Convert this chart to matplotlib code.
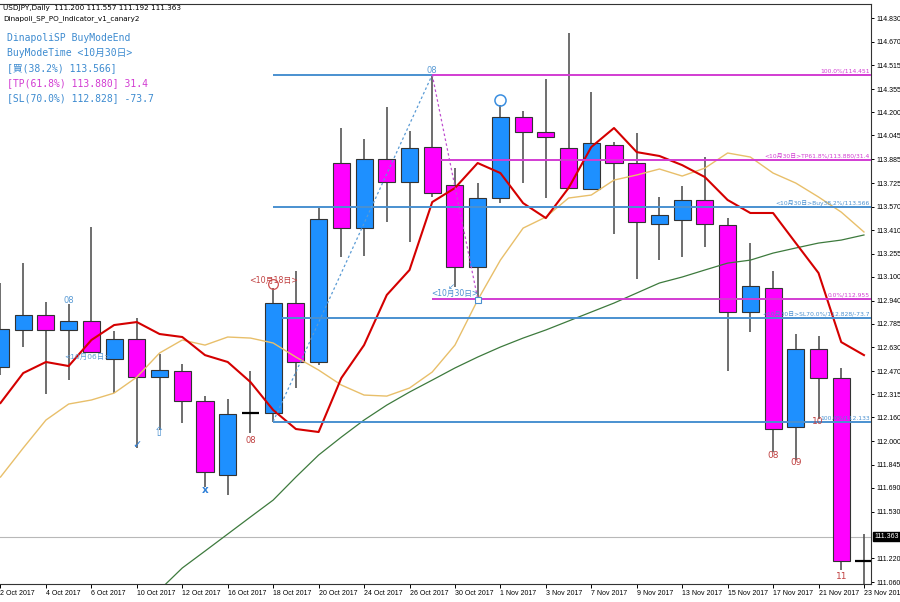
import numpy as np
import matplotlib.pyplot as plt
import matplotlib.transforms as mtransforms
from matplotlib import font_manager

# USDJPY daily bars, 2 Oct - 23 Nov 2017
dates = ["2 Oct 2017", "3 Oct 2017", "4 Oct 2017", "5 Oct 2017", "6 Oct 2017",
         "9 Oct 2017", "10 Oct 2017", "11 Oct 2017", "12 Oct 2017", "13 Oct 2017",
         "16 Oct 2017", "17 Oct 2017", "18 Oct 2017", "19 Oct 2017", "20 Oct 2017",
         "23 Oct 2017", "24 Oct 2017", "25 Oct 2017", "26 Oct 2017", "27 Oct 2017",
         "30 Oct 2017", "31 Oct 2017", "1 Nov 2017", "2 Nov 2017", "3 Nov 2017",
         "6 Nov 2017", "7 Nov 2017", "8 Nov 2017", "9 Nov 2017", "10 Nov 2017",
         "13 Nov 2017", "14 Nov 2017", "15 Nov 2017", "16 Nov 2017", "17 Nov 2017",
         "20 Nov 2017", "21 Nov 2017", "22 Nov 2017", "23 Nov 2017"]

opens = [112.497, 112.745, 112.845, 112.745, 112.805, 112.551, 112.684, 112.430, 112.471, 112.270,
         111.775, 112.192, 112.190, 112.925, 112.531, 113.861, 113.426, 113.888, 113.734, 113.968,
         113.714, 113.166, 113.627, 114.168, 114.068, 113.961, 113.687, 113.981, 113.861, 113.453,
         113.480, 113.614, 113.446, 112.865, 113.025, 112.096, 112.618, 112.424, 111.200]
highs = [113.059, 113.192, 112.932, 112.918, 113.433, 112.738, 112.825, 112.584, 112.517, 112.303,
         112.283, 112.471, 113.025, 113.139, 113.560, 114.095, 114.021, 114.235, 114.075, 114.451,
         113.827, 113.727, 114.248, 114.208, 114.422, 114.730, 114.335, 114.001, 114.061, 113.634,
         113.707, 113.901, 113.493, 113.326, 113.139, 112.718, 112.704, 112.491, 111.380]
lows = [112.444, 112.631, 112.317, 112.410, 112.590, 112.323, 111.956, 112.076, 112.123, 111.695,
        111.642, 112.056, 112.133, 112.357, 112.511, 113.233, 113.239, 113.466, 113.333, 113.634,
        113.032, 112.955, 113.593, 113.727, 113.627, 113.690, 113.680, 113.386, 113.085, 113.212,
        113.233, 113.299, 112.471, 112.731, 111.929, 111.876, 112.150, 111.140, 111.040]
closes = [112.751, 112.845, 112.745, 112.805, 112.598, 112.684, 112.430, 112.477, 112.270, 111.795,
          112.183, 112.192, 112.925, 112.531, 113.487, 113.426, 113.888, 113.734, 113.961, 113.660,
          113.166, 113.627, 114.168, 114.068, 114.035, 113.694, 113.994, 113.861, 113.466, 113.513,
          113.614, 113.453, 112.865, 113.039, 112.083, 112.618, 112.424, 111.200, 111.200]

# moving averages (red = fast DMA, tan = mid, green = slow)
ma_red = [112.257, 112.457, 112.531, 112.504, 112.678, 112.778, 112.798, 112.718, 112.698, 112.577,
          112.531, 112.397, 112.210, 112.083, 112.063, 112.424, 112.644, 112.979, 113.146, 113.600,
          113.694, 113.861, 113.794, 113.593, 113.493, 113.694, 113.968, 114.095, 113.934, 113.908,
          113.847, 113.767, 113.614, 113.527, 113.527, 113.326, 113.126, 112.664, 112.577]
ma_tan = [111.762, 111.956, 112.143, 112.250, 112.277, 112.323, 112.430, 112.591, 112.678, 112.644,
          112.698, 112.691, 112.658, 112.564, 112.477, 112.377, 112.310, 112.303, 112.357, 112.464,
          112.644, 112.945, 113.212, 113.426, 113.500, 113.627, 113.647, 113.747, 113.781, 113.821,
          113.774, 113.827, 113.928, 113.901, 113.794, 113.727, 113.634, 113.533, 113.400]
ma_green = [np.nan] * 7 + [
          111.007, 111.154, 111.267, 111.381, 111.495, 111.608, 111.762, 111.909, 112.029, 112.143,
          112.243, 112.330, 112.410, 112.491, 112.564, 112.631, 112.691, 112.745, 112.805, 112.865,
          112.925, 112.992, 113.059, 113.099, 113.146, 113.192, 113.212, 113.259, 113.293, 113.326,
          113.346, 113.380]

# fibo lines: price, first bar, colour, label
lvl_price = [114.451, 114.451, 113.880, 113.566, 112.955, 112.828, 112.133]
lvl_start = [12, 19, 19.35, 12, 19, 12.4, 12]
lvl_color = ["#4a90d0", "#d23cd2", "#d23cd2", "#4a90d0", "#d23cd2", "#4a90d0", "#4a90d0"]
lvl_label = ["", "100.0%/114.451", "<10月30日>TP61.8%/113.880/31.4", "<10月30日>Buy38.2%/113.566",
             "0.0%/112.955", "<10月30日>SL70.0%/112.828/-73.7", "100.0%/112.133"]

yticks = [114.830, 114.670, 114.515, 114.355, 114.200, 114.045, 113.885, 113.725, 113.570,
          113.410, 113.255, 113.100, 112.940, 112.785, 112.630, 112.470, 112.315, 112.160,
          112.000, 111.845, 111.690, 111.530, 111.220, 111.060]
bid = 111.363

BLUE = "#1e90ff"
MAG = "#ff00ff"
JP = ["DejaVu Sans", "Noto Sans CJK JP"]

# narrow font for the price / time scales if we have it
names = {f.name for f in font_manager.fontManager.ttflist}
if "Liberation Sans Narrow" in names:
    SCALE_FONT, SCALE_SIZE = "Liberation Sans Narrow", 6.0
else:
    SCALE_FONT, SCALE_SIZE = "Liberation Sans", 5.0

fig = plt.figure(figsize=(9, 6.02), dpi=100)
ax = fig.add_axes([0, 18 / 602, 871 / 900, 580 / 602])
x = np.arange(len(dates))

# candles
ax.vlines(x, lows, highs, color="#555555", lw=1.2, zorder=2)
for i in range(len(x)):
    o, c = opens[i], closes[i]
    if c == o:
        ax.hlines(o, i - 0.38, i + 0.38, color="black", lw=1.6, zorder=3)
        continue
    col = BLUE if c > o else MAG
    ax.bar(i, abs(c - o), bottom=min(o, c), width=0.75, color=col,
           edgecolor="#333333", lw=0.8, zorder=3)

xmax = 38.31
ax.axhline(bid, color="#b8b8b8", lw=0.8, zorder=1)

# moving averages
ax.plot(x, ma_green, color="#3d7a3d", lw=0.9, zorder=4)
ax.plot(x, ma_tan, color="#e8bf6a", lw=1.0, zorder=4)
ax.plot(x, ma_red, color="#d40000", lw=1.5, zorder=5)

# fibo lines + labels
for p, s, col, lab in zip(lvl_price, lvl_start, lvl_color, lvl_label):
    end = 19 if lab == "" else xmax
    ax.hlines(p, s, end, color=col, lw=1.4, zorder=6)
    if lab:
        ax.text(xmax - 0.05, p + 0.008, lab, color=col, fontsize=4.3, ha="right",
                va="bottom", family=JP, zorder=7)

# swing lines
ax.plot([12, 19], [112.133, 114.451], color="#5a9bd5", lw=0.9, ls=(0, (2, 2)), zorder=6)
ax.plot([19, 21], [114.451, 112.955], color="#c050d0", lw=0.9, ls=(0, (2, 2)), zorder=6)

# markers / labels
ax.text(3, 112.945, "08", color="#5a9bd5", fontsize=6, ha="center", va="center")
ax.text(3.85, 112.571, "<10月06日>", color="#5a9bd5", fontsize=5.4, ha="center", va="center",
        family=JP, zorder=7)
ax.text(6, 111.976, "✓", color="#2f80d8", fontsize=8, ha="center", va="center", fontweight="bold")
ax.text(7, 112.063, "⇧", color="#4a90d0", fontsize=9, ha="center", va="center")
ax.text(9, 111.675, "x", color="#2f80d8", fontsize=7.5, ha="center", va="center", fontweight="bold")
ax.text(11, 112.003, "08", color="#c04040", fontsize=6, ha="center", va="center")
ax.plot(12, 113.052, "o", mfc="none", mec="#d05050", ms=7, mew=0.9, zorder=7)
ax.text(12, 113.079, "<10月18日>", color="#c04040", fontsize=5.7, ha="center", va="center",
        family=JP, zorder=7)
ax.text(19, 114.482, "08", color="#5a9bd5", fontsize=6, ha="center", va="center")
ax.text(20, 112.992, "<10月30日>", color="#4a90d0", fontsize=5.5, ha="center", va="center",
        family=JP, zorder=7)
ax.text(19.85, 113.035, "↙", color="#4a90d0", fontsize=6, ha="center", va="center", zorder=7)
ax.plot(21, 112.945, "s", mfc="white", mec="#4a90d0", ms=4, mew=0.8, zorder=7)
ax.plot(22, 114.282, "o", mfc="none", mec="#3a8ee0", ms=8, mew=1.1, zorder=7)
ax.text(34, 111.909, "08", color="#c04040", fontsize=6.5, ha="center", va="center")
ax.text(35, 111.856, "09", color="#c04040", fontsize=6.5, ha="center", va="center")
ax.text(35.95, 112.136, "10", color="#c04040", fontsize=6.5, ha="center", va="center", zorder=7)
ax.text(37, 111.100, "11", color="#c04040", fontsize=6.5, ha="center", va="center")

# axes
ax.set_xlim(-0.022, xmax)
ax.set_ylim(111.047, 114.924)
ax.yaxis.tick_right()
ax.set_yticks(yticks)
ax.set_yticklabels(["%.3f" % v for v in yticks], family=SCALE_FONT)
ax.set_xticks(x[::2])
ax.set_xticklabels(dates[::2], ha="left", family=SCALE_FONT)
ax.tick_params(axis="y", length=2.5, width=0.7, labelsize=SCALE_SIZE, pad=1.5, colors="black")
ax.tick_params(axis="x", length=3, width=0.7, labelsize=SCALE_SIZE, pad=1.5)
ax.spines["left"].set_visible(False)
for sp in ["right", "bottom", "top"]:
    ax.spines[sp].set_linewidth(0.8)
    ax.spines[sp].set_color("#333333")

# bid box on price scale
tr = mtransforms.blended_transform_factory(ax.transAxes, ax.transData)
ax.text(1.004, bid, "%.3f" % bid, transform=tr, color="white", fontsize=SCALE_SIZE,
        family=SCALE_FONT, ha="left", va="center",
        bbox=dict(boxstyle="square,pad=0.15", fc="black", ec="black"),
        clip_on=False, zorder=10)

# header texts
fig.text(3 / 900, 1 - 8 / 602, "USDJPY,Daily  111.200 111.557 111.192 111.363", fontsize=5.2,
         va="center", color="black")
fig.text(3 / 900, 1 - 19 / 602, "Dinapoli_SP_PO_Indicator_v1_canary2", fontsize=5.2,
         va="center", color="black")

info = ["DinapoliSP BuyModeEnd", "BuyModeTime <10月30日>", "[買(38.2%) 113.566]",
        "[TP(61.8%) 113.880] 31.4", "[SL(70.0%) 112.828] -73.7"]
info_col = ["#3d8bd0", "#3d8bd0", "#3d8bd0", "#d23cd2", "#3d8bd0"]
for k, (t, c) in enumerate(zip(info, info_col)):
    fig.text(7 / 900, 1 - (38 + 15 * k) / 602, t, fontsize=7, color=c, va="center",
             family=["DejaVu Sans Mono", "Noto Sans CJK JP"])

fig.savefig("out.png", dpi=100)
